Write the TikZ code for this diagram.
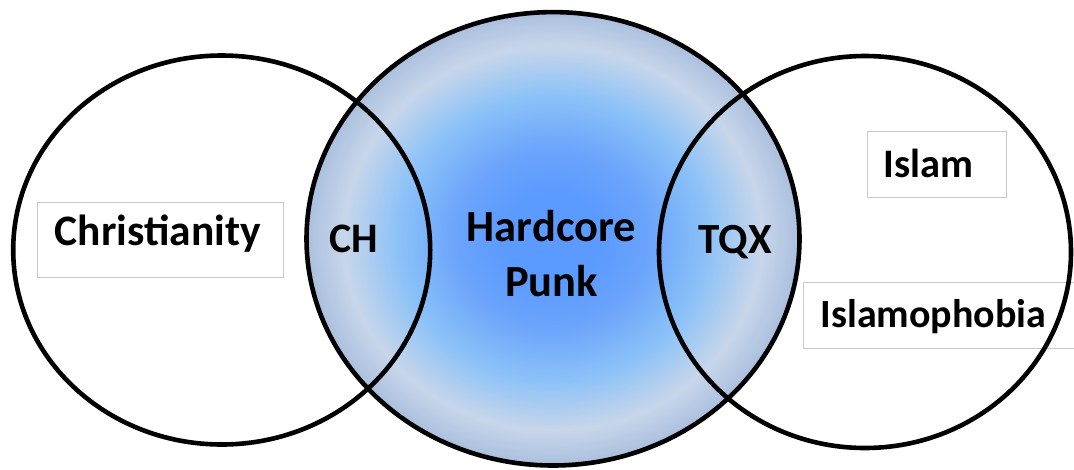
\documentclass[tikz,border=0pt]{standalone}
\usepackage{fontspec}
\setmainfont{Carlito}
\usetikzlibrary{shapes.geometric}
\definecolor{cA}{HTML}{5B9AFF}
\definecolor{cAb}{HTML}{6BA4FB}
\definecolor{cB}{HTML}{8CC2F8}
\definecolor{cC}{HTML}{C8D6EA}
\definecolor{cD}{HTML}{ABC0DE}
\definecolor{boxgray}{HTML}{C8C8C8}
\tikzset{
  venn/.style={ellipse, draw=black, line width=4.6pt, inner sep=0pt},
  lbl/.style={font=\fontsize{#1}{54.5}\selectfont\bfseries, inner sep=0pt, align=center},
  lbl/.default=40,
  lblbox/.style={draw=boxgray, line width=0.9pt}
}
\begin{document}
\begin{tikzpicture}[x=1pt,y=-1pt]
\useasboundingbox (0,0) rectangle (1074,469);
% center circle radial fill, built from concentric ellipses
\coordinate (hcc) at (553,238.8);
\foreach \i in {200,199,...,1}{
  \pgfmathsetmacro\rr{\i/200}
  \ifdim\rr pt>0.85pt
    \pgfmathsetmacro\mixp{(\rr-0.85)/0.15*100}\def\colA{cD}\def\colB{cC}
  \else\ifdim\rr pt>0.63pt
    \pgfmathsetmacro\mixp{(\rr-0.63)/0.22*100}\def\colA{cC}\def\colB{cB}
  \else\ifdim\rr pt>0.39pt
    \pgfmathsetmacro\mixp{(\rr-0.39)/0.24*100}\def\colA{cB}\def\colB{cAb}
  \else\ifdim\rr pt>0.2pt
    \pgfmathsetmacro\mixp{(\rr-0.2)/0.19*100}\def\colA{cAb}\def\colB{cA}
  \else
    \def\mixp{100}\def\colA{cA}\def\colB{cA}
  \fi\fi\fi\fi
  \pgfmathsetmacro\rx{\rr*246.5}
  \pgfmathsetmacro\ry{\rr*226.7}
  \fill[color=\colA!\mixp!\colB] (hcc) ellipse [x radius=\rx pt, y radius=\ry pt];
}
% label boxes
\draw[lblbox] (37,202) rectangle (283,277);
\draw[lblbox] (867,131) rectangle (1006,197);
\draw[lblbox] (1090,282) -- (803,282) -- (803,348) -- (1090,348);
% circles
\node[venn, minimum width=417pt, minimum height=389pt] (chr) at (221.7,250) {};
\node[venn, minimum width=412pt, minimum height=392pt] (isl) at (865,252) {};
\node[venn, minimum width=493pt, minimum height=453.4pt] (hc) at (hcc) {};
% labels
\node[lbl=43.5, anchor=base] (tchr) at (158,245) {Christianity};
\node[lbl=42, anchor=base] (tch) at (354,252) {CH};
\node[lbl=44.5, anchor=base] (thc) at (551.5,296) {Hardcore\\Punk};
\node[lbl=43, anchor=base] (ttqx) at (735,253) {TQX};
\node[lbl=40.5, anchor=base] (tisl) at (928.5,177) {Islam};
\node[lbl=40, anchor=base] (tislp) at (933.5,327) {Islamophobia};
\end{tikzpicture}
\end{document}
